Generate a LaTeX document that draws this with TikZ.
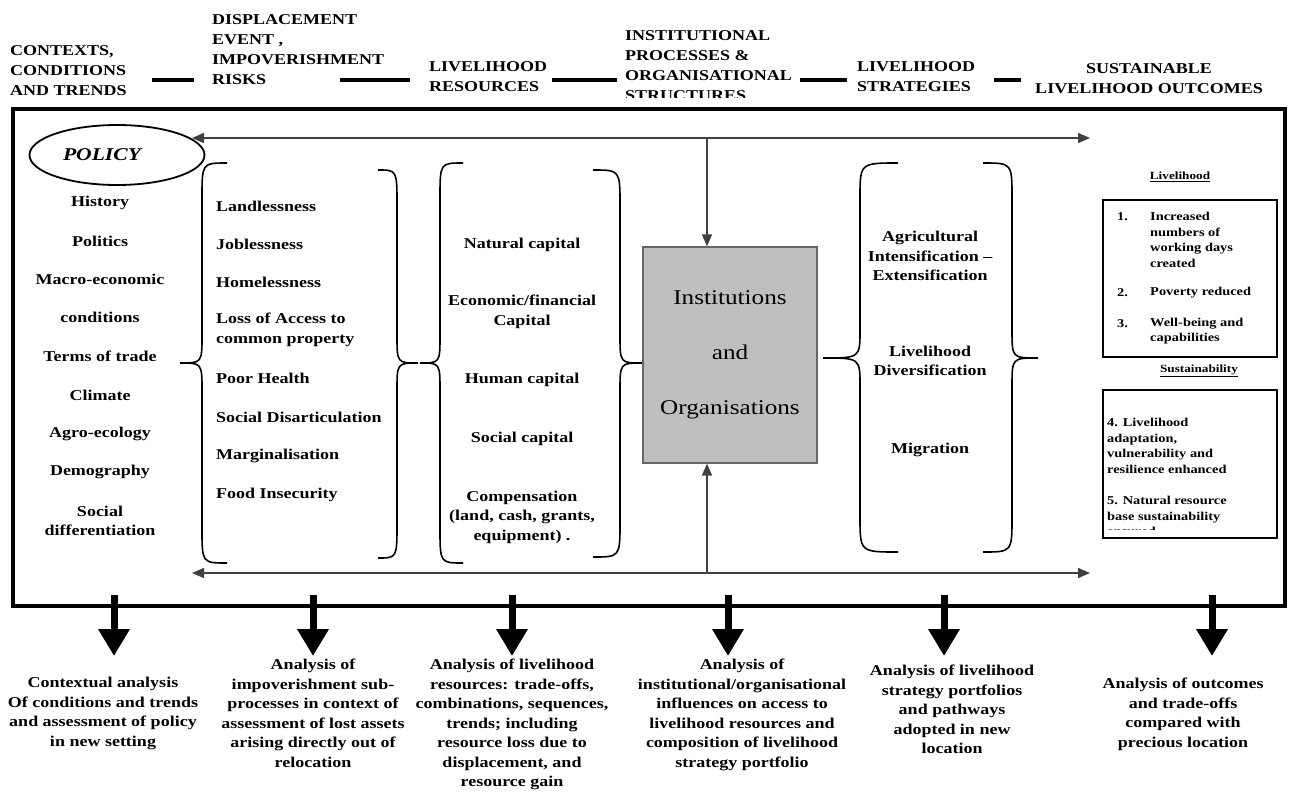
\documentclass[tikz,border=0pt]{standalone}
\usepackage{fontspec}
\setmainfont{Liberation Serif}[FakeStretch=1.2]
\usepackage{tikz}
\usetikzlibrary{arrows.meta, shapes}

% curly brace: end x, body x, tip x, top y, tip y, bottom y
\newcommand{\curly}[6]{%
  \draw[line width=1.6pt] (#1,#4) .. controls (#2,#4) .. (#2,#4+35)
    -- (#2,#5-28) .. controls (#2,#5) .. (#3,#5)
    .. controls (#2,#5) .. (#2,#5+28) -- (#2,#6-35)
    .. controls (#2,#6) .. (#1,#6);}

\begin{document}
\begin{tikzpicture}[x=1pt, y=-1pt,
  hd/.style={font=\fontsize{15}{20}\selectfont\bfseries, align=left, inner sep=0pt, anchor=west},
  itm/.style={font=\fontsize{15}{19.5}\selectfont\bfseries, align=center, inner sep=0pt},
  lst/.style={itm, anchor=west, align=left},
  res/.style={font=\fontsize{12}{15.5}\selectfont\bfseries, align=left, inner sep=0pt, anchor=west},
  ana/.style={font=\fontsize{15}{19.5}\selectfont\bfseries, align=center, inner sep=0pt, anchor=north},
  hdlink/.style={line width=4pt},
  flow/.style={draw=black!75, line width=1.5pt},
  down/.style={line width=7pt, -{Triangle[length=27pt,width=30pt]}}
]
\useasboundingbox (0,0) rectangle (1292,795);

% headings along the top
\begin{scope}
    \node[hd] (h1) at (10,71) {CONTEXTS,\\CONDITIONS\\AND TRENDS};
    \node[hd] (h2) at (212,50) {DISPLACEMENT\\EVENT ,\\IMPOVERISHMENT\\RISKS};
    \node[hd] (h3) at (429,77) {LIVELIHOOD\\RESOURCES};
    \node[hd] (h5) at (857,77) {LIVELIHOOD\\STRATEGIES};
    \node[hd, anchor=center, align=center] (h6) at (1149,79) {SUSTAINABLE\\LIVELIHOOD OUTCOMES};
\end{scope}
\begin{scope}
    \clip (600,0) rectangle (800,97);
    \node[hd] (h4) at (625,66) {INSTITUTIONAL\\PROCESSES \&\\ORGANISATIONAL\\STRUCTURES};
\end{scope}

\begin{scope}
    \coordinate (d1a) at (152,80);  \coordinate (d1b) at (194,80);
    \coordinate (d2a) at (340,80);  \coordinate (d2b) at (410,80);
    \coordinate (d3a) at (552,80);  \coordinate (d3b) at (617,80);
    \coordinate (d4a) at (800,80);  \coordinate (d4b) at (847,80);
    \coordinate (d5a) at (994,80);  \coordinate (d5b) at (1021,80);
    \path [hdlink] (d1a) edge (d1b);
    \path [hdlink] (d2a) edge (d2b);
    \path [hdlink] (d3a) edge (d3b);
    \path [hdlink] (d4a) edge (d4b);
    \path [hdlink] (d5a) edge (d5b);
\end{scope}

% the frame
\draw[line width=4pt] (13,109) rectangle (1285,606);

% contexts column
\begin{scope}
    \node[ellipse, draw, line width=1.8pt, minimum width=175pt, minimum height=60pt,
          font=\fontsize{18}{20}\selectfont\bfseries\itshape] (pol) at (117,155) {POLICY\kern30pt};
    \node[itm] (c1) at (100,203) {History};
    \node[itm] (c2) at (100,241) {Politics};
    \node[itm] (c3) at (100,279) {Macro-economic};
    \node[itm] (c4) at (100,317) {conditions};
    \node[itm] (c5) at (100,356) {Terms of trade};
    \node[itm] (c6) at (100,395) {Climate};
    \node[itm] (c7) at (100,434) {Agro-ecology};
    \node[itm] (c8) at (100,472) {Demography};
    \node[itm] (c9) at (100,521) {Social\\differentiation};
\end{scope}

% impoverishment risks
\begin{scope}
    \node[lst] (r1) at (216,206) {Landlessness};
    \node[lst] (r2) at (216,244) {Joblessness};
    \node[lst] (r3) at (216,282) {Homelessness};
    \node[lst] (r4) at (216,330) {Loss of Access to\\common property};
    \node[lst] (r5) at (216,378) {Poor Health};
    \node[lst] (r6) at (216,417) {Social Disarticulation};
    \node[lst] (r7) at (216,456) {Marginalisation};
    \node[lst] (r8) at (216,495) {Food Insecurity};
\end{scope}

% livelihood resources
\begin{scope}
    \node[itm] (k1) at (522,245) {Natural capital};
    \node[itm] (k2) at (522,312) {Economic/financial\\Capital};
    \node[itm] (k3) at (522,380) {Human capital};
    \node[itm] (k4) at (522,439) {Social capital};
    \node[itm] (k5) at (522,517) {Compensation\\(land, cash, grants,\\equipment) .};
\end{scope}

% livelihood strategies
\begin{scope}
    \node[itm] (s1) at (930,256) {Agricultural\\Intensification --\\Extensification};
    \node[itm] (s2) at (930,361) {Livelihood\\Diversification};
    \node[itm] (s3) at (930,450) {Migration};
\end{scope}

% braces round the groups
\curly{227}{202}{180}{163}{363}{563}
\curly{378}{397}{418}{170}{363}{558}
\curly{463}{440}{420}{163}{363}{563}
\curly{593}{620}{642}{170}{363}{557}
\curly{898}{860}{823}{163}{358}{552}
\curly{983}{1012}{1038}{163}{358}{552}

% institutions in the middle
\node[draw=black!60, fill=black!25, line width=1.2pt, minimum width=174pt, minimum height=216pt,
      align=center, font=\fontsize{21}{55}\selectfont] (inst) at (730,355) {Institutions\\and\\Organisations};

\begin{scope}[>={Triangle[length=12pt,width=10pt]}]
    \coordinate (tl) at (192,138);
    \coordinate (tr) at (1090,138);
    \coordinate (tm) at (707,138);
    \coordinate (bl) at (192,573);
    \coordinate (br) at (1090,573);
    \coordinate (bm) at (707,573);
    \draw [flow, <->] (tl) -- (tr);
    \draw [flow, <->] (bl) -- (br);
    \draw [flow, ->] (tm) -- (tm |- inst.north);
    \draw [flow, ->] (bm) -- (bm |- inst.south);
\end{scope}

% outcomes
\begin{scope}
    \node[res, anchor=center, font=\fontsize{11}{14}\selectfont\bfseries] (o1) at (1180,177) {\underline{Livelihood}};
    \draw[line width=1.2pt] (1103,200) rectangle (1277,357);
    \node[res] (n1) at (1117,217) {1.};
    \node[res] (o2) at (1150,240) {Increased\\numbers of\\working days\\created};
    \node[res] (n2) at (1117,293) {2.};
    \node[res] (o3) at (1150,293) {Poverty reduced};
    \node[res] (n3) at (1117,324) {3.};
    \node[res] (o4) at (1150,331) {Well-being and\\capabilities};
    \node[res, anchor=center, font=\fontsize{11}{14}\selectfont\bfseries] (o5) at (1199,371) {\underline{Sustainability}};
    \draw[line width=1.2pt] (1103,390) rectangle (1277,538);
    \node[res] (o6) at (1107,446) {4. Livelihood\\adaptation,\\vulnerability and\\resilience enhanced};
\end{scope}
\begin{scope}
    \clip (1105,480) rectangle (1275,529);
    \node[res] (o7) at (1107,516) {5. Natural resource\\base sustainability\\ensured};
\end{scope}

% analysis under each column
\begin{scope}
    \node[ana] (a1) at (103,677) {Contextual analysis\\Of conditions and trends\\and assessment of policy\\in new setting};
    \node[ana] (a2) at (313,659) {Analysis of\\impoverishment sub-\\processes in context of\\assessment of lost assets\\arising directly out of\\relocation};
    \node[ana] (a3) at (512,659) {Analysis of livelihood\\resources: trade-offs,\\combinations, sequences,\\trends; including\\resource loss due to\\displacement, and\\resource gain};
    \node[ana] (a4) at (742,659) {Analysis of\\institutional/organisational\\influences on access to\\livelihood resources and\\composition of livelihood\\strategy portfolio};
    \node[ana] (a5) at (952,665) {Analysis of livelihood\\strategy portfolios\\and pathways\\adopted in new\\location};
    \node[ana] (a6) at (1183,678) {Analysis of outcomes\\and trade-offs\\compared with\\precious location};
\end{scope}

\begin{scope}
    \coordinate (p1) at (114,595);  \coordinate (q1) at (114,656);
    \coordinate (p2) at (313,595);  \coordinate (q2) at (313,656);
    \coordinate (p3) at (512,595);  \coordinate (q3) at (512,656);
    \coordinate (p4) at (728,595);  \coordinate (q4) at (728,656);
    \coordinate (p5) at (944,595);  \coordinate (q5) at (944,656);
    \coordinate (p6) at (1212,595); \coordinate (q6) at (1212,656);
    \path [down] (p1) edge (q1);
    \path [down] (p2) edge (q2);
    \path [down] (p3) edge (q3);
    \path [down] (p4) edge (q4);
    \path [down] (p5) edge (q5);
    \path [down] (p6) edge (q6);
\end{scope}
\end{tikzpicture}
\end{document}
